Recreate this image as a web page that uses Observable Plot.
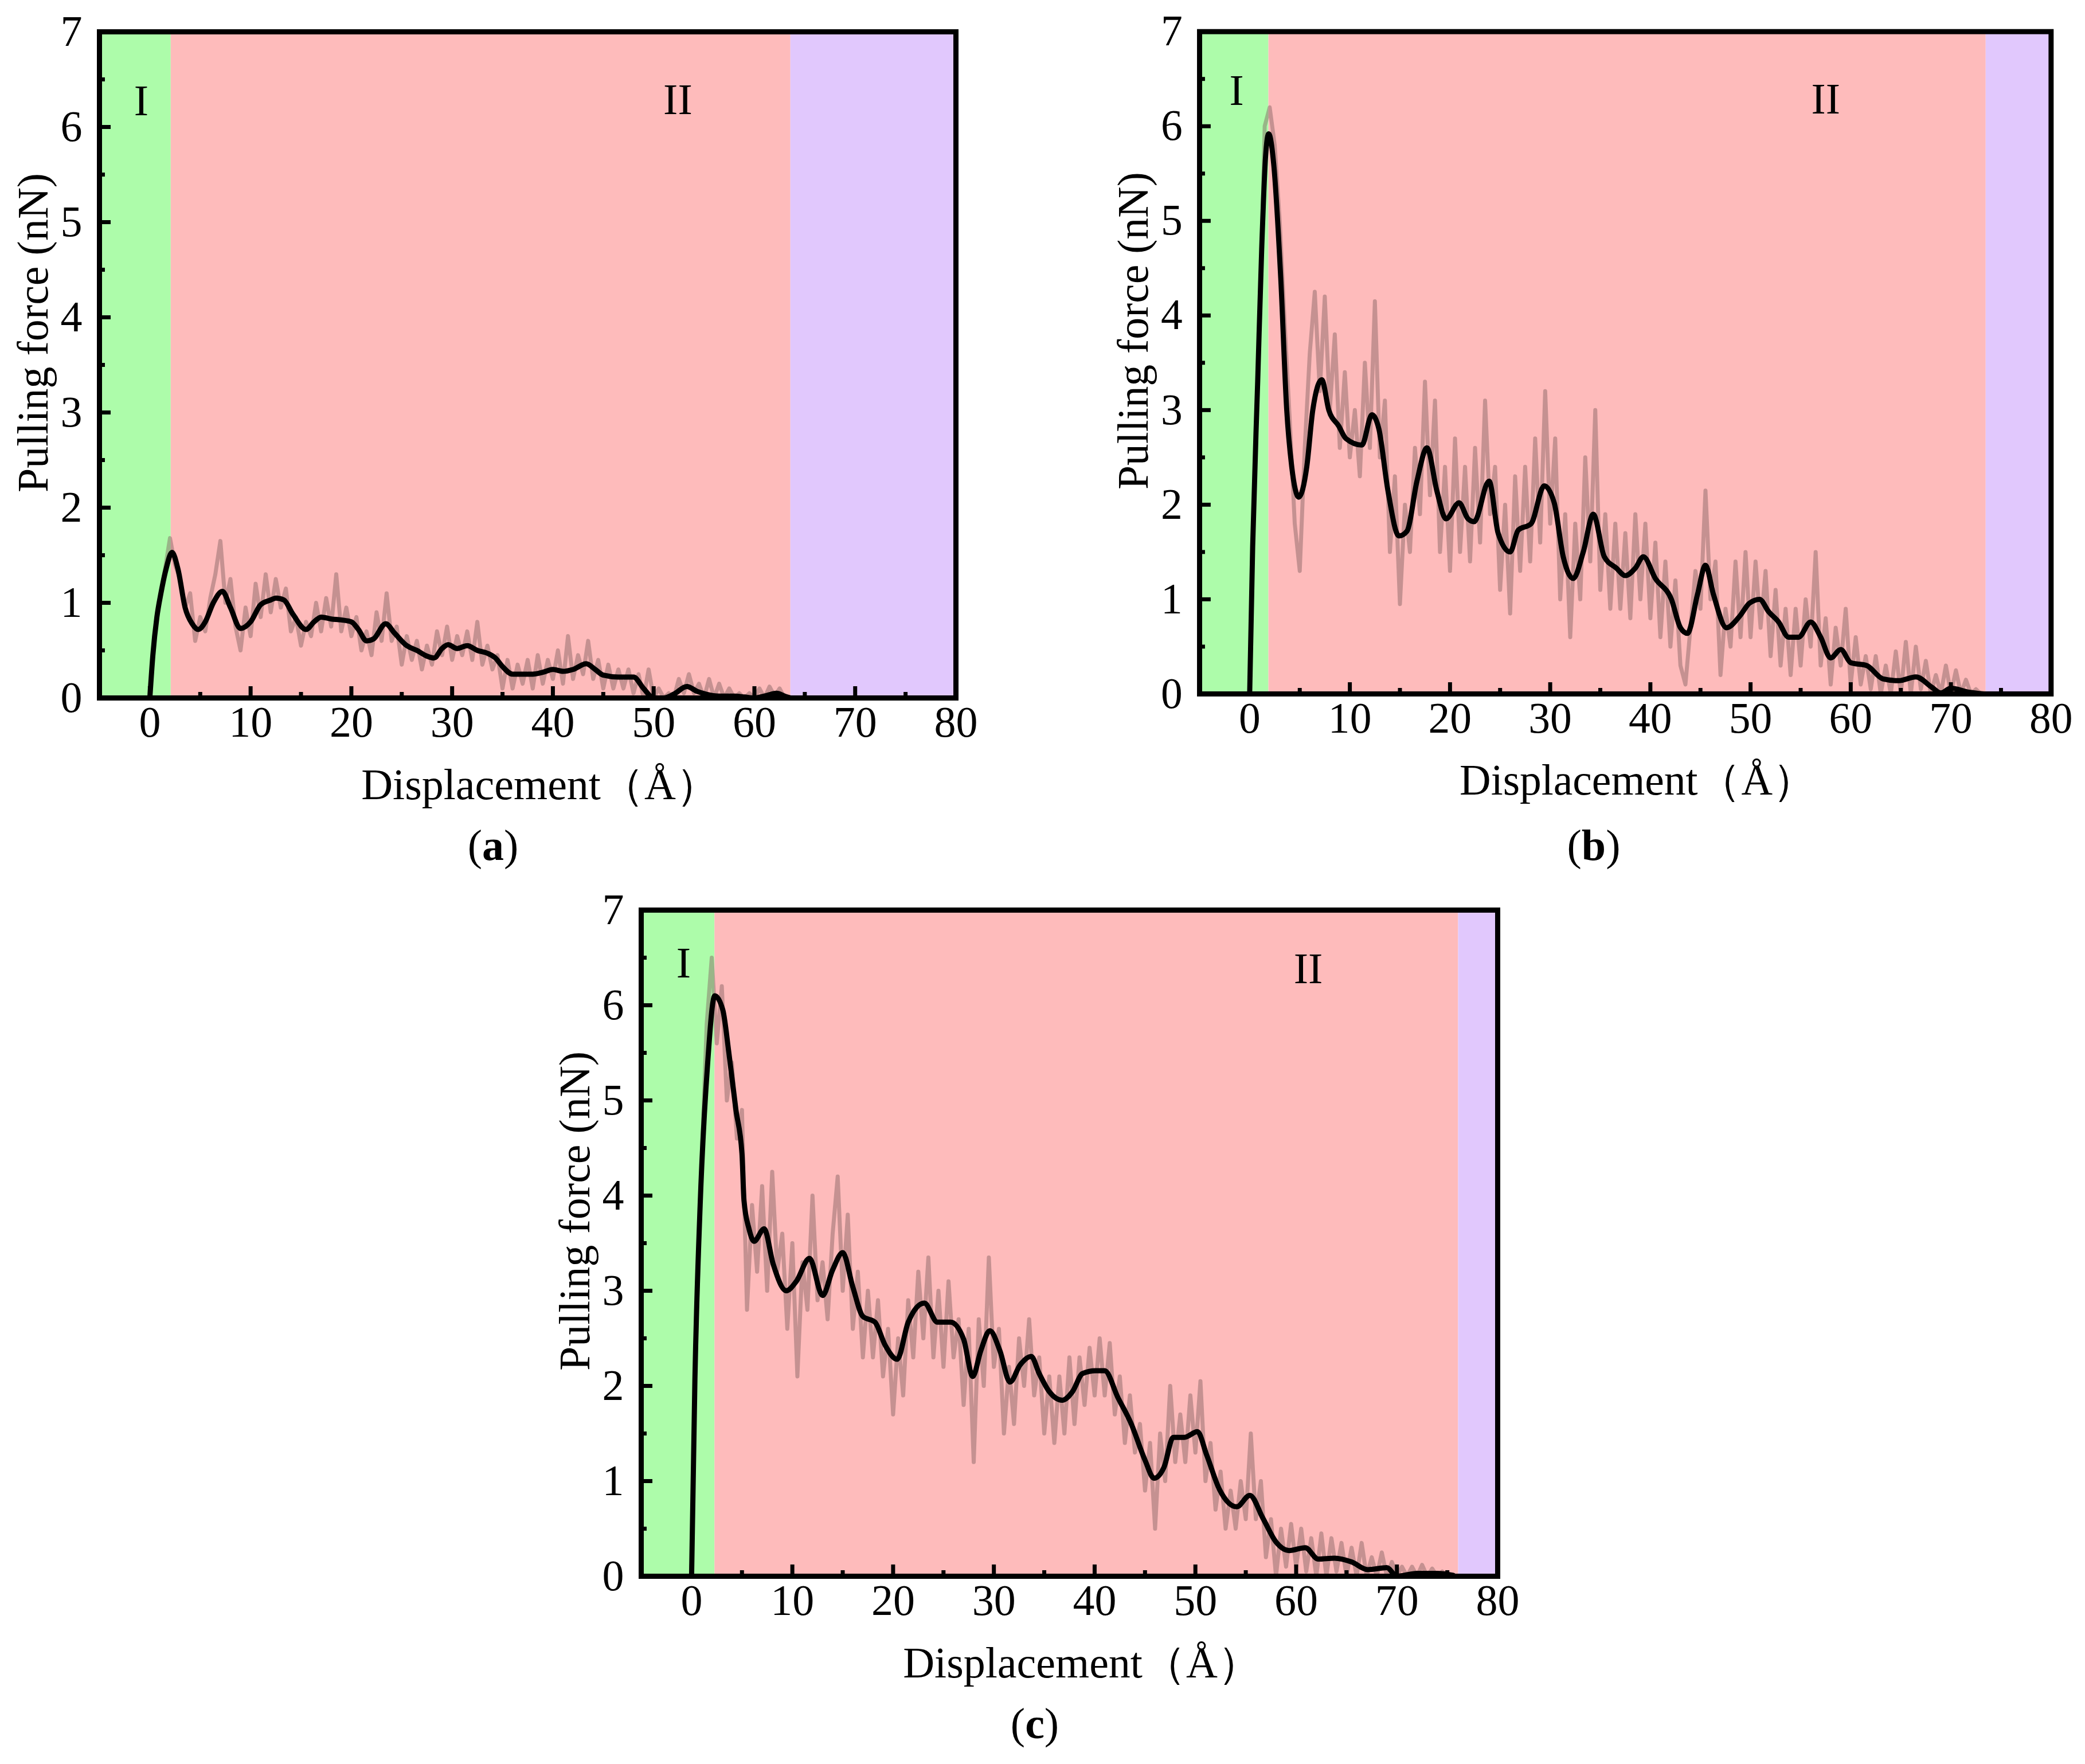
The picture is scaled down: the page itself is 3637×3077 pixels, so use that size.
<!DOCTYPE html>
<html>
<head>
<meta charset="utf-8">
<script src="https://cdn.jsdelivr.net/npm/d3@7"></script>
<script src="https://cdn.jsdelivr.net/npm/@observablehq/plot@0.6"></script>
<style>
  body { margin: 0; background: #fff; }
  #fig { position: relative; width: 3637px; height: 3077px; background: #fff; }
  .panel { position: absolute; }
  .cap { position: absolute; width: 300px; text-align: center; font-family: "Liberation Serif"; font-size: 76px; line-height: 76px; }
</style>
</head>
<body>
<div id="fig"></div>
<script>
const stages = ['I', 'II', 'III']
const stageColors = ['#adfcaa', '#febbbb', '#e1c8fd']

const xTicks = [0, 10, 20, 30, 40, 50, 60, 70, 80]
const xMinor = [5, 15, 25, 35, 45, 55, 65, 75]
const yTicks = [0, 1, 2, 3, 4, 5, 6, 7]
const yMinor = [0.5, 1.5, 2.5, 3.5, 4.5, 5.5, 6.5]

// raw force samples every 0.5 A starting at 1.5 A
const rawStart = 1.5
const rawStep = 0.5

// (a)
const edgesA = [-5, 2.1, 63.6, 80]
const smoothAx = [0,0.3,0.7,1.1,1.6,2.2,2.8,3.5,4.2,4.8,5.5,6.3,7.2,8.0,9.0,10.0,11.0,12.0,12.5,13.3,14.2,15.5,16.3,17.0,18.0,19.0,20.0,20.7,21.5,22.2,23.4,24.3,25.5,26.5,27.5,28.2,29.0,29.6,30.5,31.5,32.5,33.5,34.3,35.0,36.0,37.0,38.0,39.0,40.0,41.0,42.0,43.3,44.2,45.0,46.5,48.0,49.0,50.0,51.0,52.0,53.3,54.3,55.2,56.5,58.0,59.0,60.0,61.0,62.2,63.0,63.6]
const smoothAy = [0,0.45,0.85,1.1,1.35,1.53,1.35,0.95,0.78,0.72,0.8,1.0,1.12,0.95,0.73,0.8,0.98,1.03,1.05,1.03,0.88,0.72,0.8,0.85,0.83,0.82,0.8,0.72,0.6,0.62,0.78,0.68,0.55,0.5,0.44,0.42,0.52,0.56,0.52,0.55,0.5,0.47,0.42,0.33,0.25,0.25,0.25,0.27,0.3,0.28,0.3,0.36,0.3,0.24,0.22,0.22,0.1,0.0,0.0,0.04,0.12,0.07,0.04,0.02,0.02,0.01,0.0,0.02,0.05,0.02,0.0]
const rawAy = [
  1.35,1.68,1.4,1.25,0.95,1.1,0.6,0.85,0.7,1.05,
  1.3,1.65,1.0,1.25,0.75,0.5,0.95,0.65,1.2,0.85,
  1.3,0.9,1.25,0.95,1.15,0.7,0.85,0.55,0.8,0.65,
  1.0,0.7,1.05,0.75,1.3,0.7,0.95,0.65,0.85,0.5,
  0.7,0.45,0.9,0.6,1.1,0.6,0.75,0.35,0.65,0.4,
  0.6,0.3,0.55,0.35,0.7,0.45,0.75,0.4,0.65,0.45,
  0.7,0.4,0.8,0.35,0.55,0.3,0.45,0.1,0.4,0.1,
  0.35,0.15,0.4,0.1,0.45,0.15,0.4,0.2,0.5,0.15,
  0.65,0.2,0.45,0.25,0.6,0.2,0.4,0.1,0.35,0.1,
  0.3,0.1,0.3,0.05,0.25,0.0,0.3,0.0,0.1,0.0,
  0.05,0.0,0.2,0.05,0.25,0.05,0.15,0.0,0.2,0.0,
  0.15,0.0,0.1,0.0,0.05,0.0,0.05,0.0,0.1,0.0,
  0.12,0.02,0.1,0.0,0.0]
const labelsA = [{t: 'I', x: -0.85, y: 6.27}, {t: 'II', x: 52.4, y: 6.28}]

// (b)
const edgesB = [-5, 1.9, 73.5, 80]
const smoothBx = [0,0.3,0.8,1.2,1.6,1.9,2.4,3.1,3.7,4.2,4.9,5.7,6.3,7.2,7.9,8.9,9.6,11.2,12.2,12.9,13.8,14.9,15.7,16.7,17.7,18.7,19.6,20.9,21.8,22.4,23.9,24.8,26.0,26.8,28.1,29.4,30.4,31.3,32.3,33.3,34.3,35.4,36.6,37.5,38.5,39.3,40.5,42.1,43.0,43.7,44.7,45.5,46.3,47.6,48.9,49.9,50.9,51.8,52.8,53.8,54.8,56.0,57.0,58.0,59.0,60.0,61.6,63.2,64.8,66.5,68.1,69.0,70.0,71.7,73.3]
const smoothBy = [0,1.56,3.3,4.7,5.7,5.92,5.6,4.4,3.0,2.4,2.08,2.4,3.0,3.32,3.0,2.83,2.7,2.63,2.95,2.8,2.15,1.67,1.72,2.25,2.6,2.14,1.85,2.02,1.85,1.82,2.25,1.7,1.5,1.73,1.8,2.2,2.02,1.45,1.22,1.5,1.9,1.45,1.33,1.25,1.33,1.45,1.22,1.0,0.7,0.64,1.05,1.36,1.05,0.7,0.82,0.96,1.0,0.87,0.76,0.6,0.6,0.76,0.6,0.38,0.47,0.33,0.3,0.16,0.14,0.18,0.07,0.01,0.06,0.02,0.0]
const rawBy = [
  6.0,6.2,5.8,5.0,3.9,2.9,1.8,1.3,2.6,3.6,
  4.25,3.2,4.2,3.0,3.8,2.6,3.4,2.5,3.0,2.3,
  3.5,2.6,4.15,2.5,3.1,1.5,2.3,0.95,2.0,1.5,
  2.6,1.9,3.3,2.1,3.1,1.5,2.4,1.3,2.7,1.5,
  2.4,1.4,2.6,1.6,3.1,1.9,2.4,1.1,2.0,0.85,
  2.3,1.3,2.4,1.4,2.7,1.6,3.2,1.8,2.7,1.0,
  1.9,0.6,1.8,1.0,2.5,1.4,3.0,1.1,1.9,0.9,
  1.8,0.9,1.7,0.8,1.9,1.0,1.8,0.8,1.6,0.6,
  1.4,0.5,1.2,0.3,0.1,0.7,1.3,0.9,2.15,1.0,
  1.4,0.2,0.9,0.5,1.4,0.6,1.5,0.6,1.4,0.7,
  1.3,0.4,1.1,0.3,0.9,0.2,0.9,0.3,1.0,0.5,
  1.5,0.3,0.8,0.1,0.7,0.3,0.9,0.1,0.6,0.1,
  0.4,0.05,0.4,0.0,0.3,0.0,0.45,0.0,0.55,0.0,
  0.5,0.05,0.35,0.0,0.2,0.0,0.3,0.0,0.25,0.0,
  0.15,0.0,0.05,0.0,0.0]
const labelsB = [{t: 'I', x: -1.3, y: 6.37}, {t: 'II', x: 57.5, y: 6.28}]

// (c)
const edgesC = [-5, 2.3, 76.1, 80]
const smoothCx = [0,0.33,0.85,1.6,2.3,3.1,3.7,4.4,5.0,5.2,5.7,6.2,7.2,8.1,9.4,10.4,11.7,13.0,14.0,15.0,16.0,17.0,18.2,19.2,20.4,21.5,23.1,24.4,25.7,27.0,27.9,28.7,29.6,30.6,31.6,32.6,33.7,34.5,35.5,36.8,37.8,38.8,40.1,41.0,42.3,43.6,45.0,45.9,46.9,47.8,48.9,50.2,51.1,52.4,54.1,55.4,56.7,58.0,59.3,60.9,62.2,63.8,65.5,67.1,69.0,70.0,72.0,74.0,75.6]
const smoothCy = [0,2.07,3.9,5.4,6.1,5.95,5.5,4.9,4.44,3.95,3.65,3.52,3.65,3.28,3.0,3.1,3.34,2.95,3.22,3.4,3.04,2.73,2.67,2.43,2.28,2.67,2.87,2.67,2.67,2.49,2.1,2.37,2.58,2.37,2.04,2.22,2.31,2.13,1.94,1.85,1.94,2.13,2.16,2.16,1.88,1.61,1.22,1.03,1.15,1.46,1.46,1.52,1.28,0.91,0.73,0.85,0.61,0.36,0.27,0.3,0.18,0.19,0.15,0.07,0.09,0.0,0.03,0.03,0.01]
const rawCy = [
  5.8,6.5,5.6,6.2,5.0,5.4,4.6,4.9,2.8,3.9,
  3.2,4.1,3.0,4.25,3.2,3.6,2.6,3.5,2.1,3.3,
  2.8,4.0,2.9,3.3,2.7,3.6,4.2,3.0,3.8,2.6,
  3.2,2.3,3.0,2.3,2.9,2.1,2.6,1.7,2.5,1.9,
  2.9,2.3,3.2,2.5,3.35,2.3,3.0,2.2,3.1,2.3,
  2.7,1.8,2.6,1.2,2.7,2.0,3.35,2.2,2.6,1.5,
  2.2,1.6,2.5,2.0,2.7,1.9,2.3,1.5,2.1,1.4,
  2.1,1.5,2.3,1.6,2.3,1.8,2.4,1.9,2.5,1.9,
  2.45,1.7,2.1,1.4,1.9,1.3,1.6,0.9,1.4,0.5,
  1.5,1.0,2.0,1.2,1.7,1.2,1.9,1.3,2.05,1.0,
  1.4,0.7,1.1,0.5,0.9,0.5,1.0,0.6,1.5,0.6,
  1.0,0.2,0.6,0.0,0.5,0.1,0.55,0.1,0.5,0.05,
  0.4,0.0,0.45,0.0,0.4,0.05,0.35,0.0,0.3,0.0,
  0.35,0.0,0.2,0.0,0.25,0.0,0.15,0.0,0.1,0.0,
  0.1,0.0,0.12,0.0,0.08,0.0,0.05,0.0,0.0]
const labelsC = [{t: 'I', x: -0.8, y: 6.44}, {t: 'II', x: 61.2, y: 6.38}]

const fig = d3.select('#fig')

function panel(edges, sx, sy, rawY, labels, left, top, caption) {
  const bands = stages.map((s, i) => ({stage: s, x1: edges[i], x2: edges[i + 1]}))
  const smooth = sx.map((x, i) => ({x, y: sy[i]}))
  const raw = smooth.filter(d => d.x < rawStart)
    .concat(rawY.map((y, i) => ({x: rawStart + i * rawStep, y})))
  const blank = () => ''

  let chart = Plot.plot({
    width: 1727,
    height: 1417,
    marginLeft: 173,
    marginTop: 55,
    marginRight: 60,
    marginBottom: 200,
    x: {domain: [-5, 80]},
    y: {domain: [0, 7]},
    color: {domain: stages, range: stageColors},
    style: {fontFamily: 'Liberation Serif', fontSize: '76px', background: 'transparent', overflow: 'visible'},
    marks: [
      Plot.rect(bands, {x1: 'x1', x2: 'x2', fill: 'stage'}),
      Plot.line(raw, {x: 'x', y: 'y', stroke: '#806060', strokeOpacity: 0.45, strokeWidth: 7, clip: true}),
      Plot.line(smooth, {x: 'x', y: 'y', stroke: 'black', strokeWidth: 9, curve: 'monotone-x', clip: true}),
      Plot.text(labels, {x: 'x', y: 'y', text: 't', fontSize: 76, lineAnchor: 'middle'}),
      Plot.axisY(yTicks, {tickSize: 0, tickPadding: 30, tickFormat: 'd', fontSize: 76, label: null}),
      Plot.axisY(yTicks, {tickSize: -20, tickFormat: blank, strokeWidth: 7, label: null}),
      Plot.axisY(yMinor, {tickSize: -10, tickFormat: blank, strokeWidth: 7, label: null}),
      Plot.axisX(xTicks, {tickSize: 0, tickPadding: 14, tickFormat: 'd', fontSize: 76, label: null}),
      Plot.axisX(xTicks, {tickSize: -20, tickFormat: blank, strokeWidth: 7, label: null}),
      Plot.axisX(xMinor, {tickSize: -10, tickFormat: blank, strokeWidth: 7, label: null}),
      Plot.frame({stroke: 'black', strokeWidth: 9}),
      Plot.text(['Pulling force (nN)'], {frameAnchor: 'left', textAnchor: 'middle', rotate: -90, dx: -115, dy: -56, fontSize: 76, lineAnchor: 'middle'}),
      Plot.text(['Displacement（Å）'], {frameAnchor: 'bottom', dx: 22, dy: 152, fontSize: 76, lineAnchor: 'middle'}),
    ]
  })

  fig.append('div')
    .attr('class', 'panel')
    .style('left', left + 'px')
    .style('top', top + 'px')
    .append(() => chart)

  // caption sits a little left of the frame centre
  fig.append('div')
    .attr('class', 'cap')
    .style('left', (left + 173 + 747 - 60 - 150) + 'px')
    .style('top', (top + 55 + 1162 + 257 - 38) + 'px')
    .html('(<b>' + caption + '</b>)')
}

panel(edgesA, smoothAx, smoothAy, rawAy, labelsA, 0, 0, 'a')
panel(edgesB, smoothBx, smoothBy, rawBy, labelsB, 1920, 0, 'b')
panel(edgesC, smoothCx, smoothCy, rawCy, labelsC, 945, 1532, 'c')
</script>
</body>
</html>
